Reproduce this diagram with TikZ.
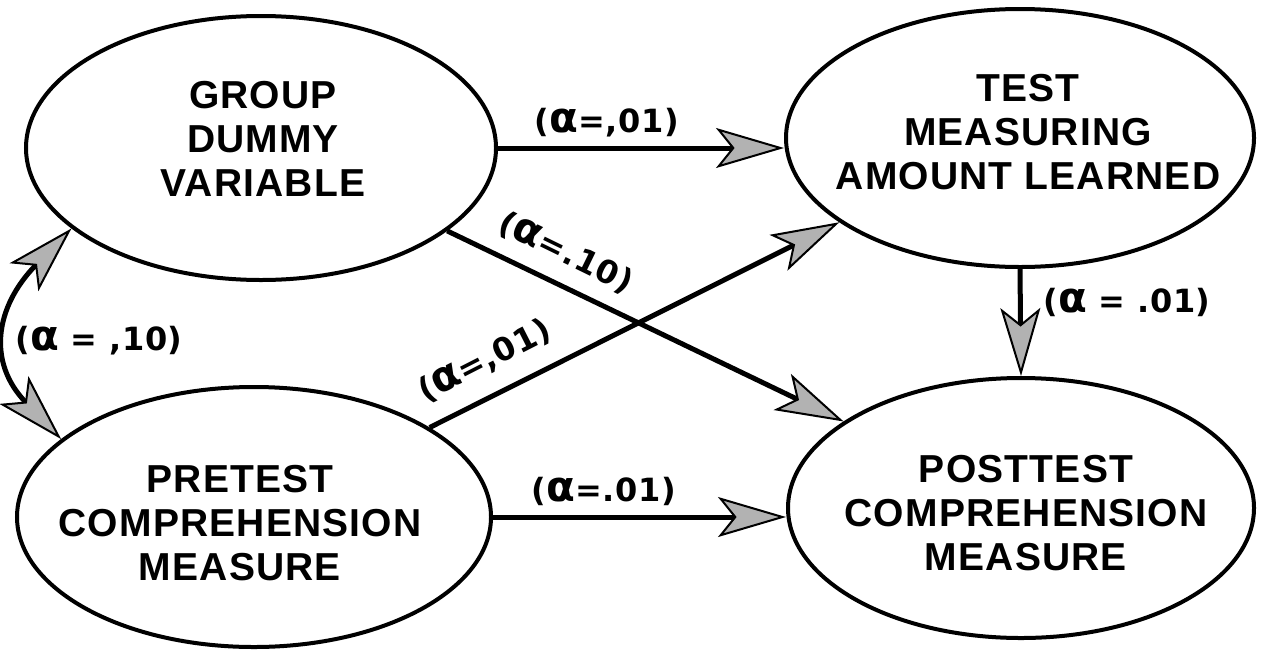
\documentclass[tikz,border=0pt]{standalone}
\usepackage{fontspec}
\setmainfont{Liberation Sans}
\newfontfamily\nodefont[LetterSpace=3]{Liberation Sans}
\newfontfamily\lblfont[LetterSpace=2]{DejaVu Sans}
\usetikzlibrary{shapes.geometric,arrows.meta}
\newcommand\balpha{{\fontsize{42}{36}\selectfont α}}
\tikzset{
  gtip/.tip={Stealth[length=68pt,width=40pt,inset=16pt,fill=gray!60,line width=2pt]},
  var/.style={draw=black, line width=4pt, ellipse, inner sep=0pt},
  vartext/.style={font=\nodefont\bfseries\fontsize{39}{44}\selectfont, align=center, inner sep=0pt},
  conn/.style={draw=black, line width=5pt, -gtip},
  dconn/.style={draw=black, line width=5pt, gtip-gtip},
  coef/.style={font=\lblfont\bfseries\fontsize{32}{36}\selectfont, inner sep=0pt},
}
\begin{document}
\begin{tikzpicture}[x=1pt,y=-1pt]
\path[use as bounding box, fill=white] (0,0) rectangle (1265,656);

% ellipses
\node[var, minimum width=470pt, minimum height=264pt] (g) at (261,148) {};
\node[var, minimum width=468pt, minimum height=258pt] (t) at (1020,138) {};
\node[var, minimum width=474pt, minimum height=260pt] (p) at (254,517) {};
\node[var, minimum width=466pt, minimum height=260pt] (q) at (1021,508) {};

% texts
\node[vartext] (gtxt) at (263,139) {GROUP\\DUMMY\\VARIABLE};
\node[vartext] (ttxt) at (1028,132) {TEST\\MEASURING\\AMOUNT LEARNED};
\node[vartext] (ptxt) at (240,523) {PRETEST\\COMPREHENSION\\MEASURE};
\node[vartext] (qtxt) at (1026,513) {POSTTEST\\COMPREHENSION\\MEASURE};

% connectors
\draw[conn] (g.east) -- (g.east -| t.west);
\draw[conn] (p.east) -- (p.east -| q.west);
\draw[conn] (g.-24.5) -- (q.154);
\draw[conn] (p.27) -- (t.205);
\draw[conn] (t.south) -- (q.north);
\draw[dconn] (g.203) .. controls (-5,307) and (-13,362) .. (p.158);

% coefficients
\node[coef] (c1) at (607,123) {(\balpha{}=,01)};
\node[coef] (c2) at (604,491) {(\balpha{}=.01)};
\node[coef, rotate=-26] (c3) at (566,253) {(\balpha{}=.10)};
\node[coef, rotate=27] (c4) at (485,361) {(\balpha{}=,01)};
\node[coef] (c5) at (1127,302) {(\balpha{} = .01)};
\node[coef] (c6) at (99,341) {(\balpha{} = ,10)};
\end{tikzpicture}
\end{document}
